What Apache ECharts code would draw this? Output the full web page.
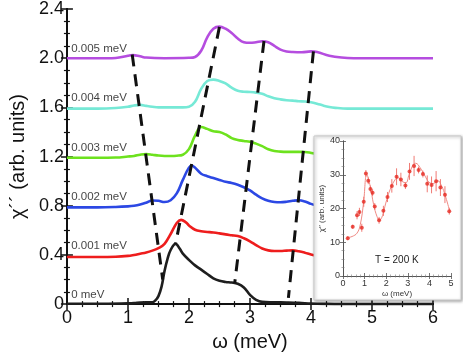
<!DOCTYPE html>
<html><head><meta charset="utf-8">
<script src="https://cdn.jsdelivr.net/npm/echarts@6/dist/echarts.min.js"></script>
<style>html,body{margin:0;padding:0;background:#fff}#c{width:463px;height:357px}</style>
</head><body><div id="c"></div>
<script>
// ---- main panel data: chi'' vs omega for several broadenings (curves offset vertically)
const omegaBlack = [0, 0.5, 1.0, 1.1, 1.2, 1.3, 1.4, 1.45, 1.5, 1.55, 1.6, 1.65, 1.7, 1.78, 1.85, 1.9, 2.0, 2.1, 2.2, 2.3, 2.4, 2.5, 2.6, 2.7, 2.8, 2.9, 3.0, 3.1, 3.2, 3.4, 3.6, 3.8, 4.0, 4.2, 4.5, 5, 6];
const chiBlack   = [0.003, 0.003, 0.006, 0.008, 0.013, 0.015, 0.015, 0.03, 0.065, 0.14, 0.27, 0.37, 0.44, 0.49, 0.45, 0.41, 0.36, 0.315, 0.28, 0.245, 0.21, 0.19, 0.18, 0.175, 0.165, 0.135, 0.075, 0.035, 0.018, 0.015, 0.013, 0.01, 0.005, 0.002, 0, 0, 0];
const omegaRed = [0, 0.5, 0.8, 1.0, 1.1, 1.2, 1.3, 1.4, 1.5, 1.6, 1.7, 1.8, 1.87, 1.95, 2.0, 2.1, 2.2, 2.3, 2.4, 2.5, 2.6, 2.7, 2.8, 2.9, 3.0, 3.1, 3.2, 3.3, 3.4, 3.5, 3.6, 3.7, 3.8, 3.9, 4.0, 4.1, 4.2, 4.4, 5, 6];
const chiRed   = [0.383, 0.383, 0.385, 0.392, 0.40, 0.41, 0.42, 0.435, 0.455, 0.49, 0.57, 0.66, 0.685, 0.665, 0.64, 0.605, 0.592, 0.587, 0.582, 0.575, 0.567, 0.56, 0.553, 0.535, 0.51, 0.48, 0.452, 0.437, 0.432, 0.432, 0.435, 0.437, 0.43, 0.418, 0.403, 0.393, 0.387, 0.384, 0.383, 0.383];
const omegaBlue = [0, 0.5, 0.8, 1.0, 1.1, 1.2, 1.3, 1.4, 1.5, 1.6, 1.7, 1.8, 1.9, 2.0, 2.05, 2.1, 2.2, 2.3, 2.4, 2.5, 2.6, 2.7, 2.8, 2.9, 3.0, 3.1, 3.2, 3.3, 3.4, 3.5, 3.6, 3.7, 3.8, 3.9, 4.0, 4.1, 4.2, 4.4, 5, 6];
const chiBlue   = [0.787, 0.787, 0.79, 0.795, 0.80, 0.81, 0.825, 0.843, 0.84, 0.83, 0.845, 0.90, 1.01, 1.11, 1.125, 1.11, 1.06, 1.04, 1.025, 1.01, 0.995, 0.985, 0.97, 0.95, 0.925, 0.89, 0.86, 0.84, 0.83, 0.828, 0.832, 0.84, 0.845, 0.835, 0.815, 0.80, 0.79, 0.787, 0.787, 0.787];
const omegaGreen = [0, 0.5, 0.8, 1.0, 1.1, 1.2, 1.3, 1.4, 1.5, 1.6, 1.7, 1.8, 1.9, 2.0, 2.1, 2.2, 2.3, 2.4, 2.5, 2.6, 2.7, 2.8, 2.9, 3.0, 3.1, 3.2, 3.3, 3.4, 3.5, 3.6, 3.8, 3.9, 4.0, 4.1, 4.2, 4.3, 4.5, 5, 6];
const chiGreen   = [1.19, 1.19, 1.192, 1.20, 1.205, 1.215, 1.22, 1.215, 1.208, 1.205, 1.205, 1.207, 1.215, 1.26, 1.37, 1.44, 1.425, 1.405, 1.40, 1.38, 1.35, 1.335, 1.327, 1.32, 1.305, 1.285, 1.26, 1.245, 1.24, 1.238, 1.238, 1.237, 1.23, 1.22, 1.205, 1.195, 1.19, 1.19, 1.19];
const omegaCyan = [0, 0.5, 0.8, 1.0, 1.1, 1.2, 1.3, 1.4, 1.5, 1.9, 2.0, 2.1, 2.2, 2.3, 2.4, 2.5, 2.6, 2.7, 2.8, 2.9, 3.0, 3.1, 3.2, 3.3, 3.4, 3.5, 3.6, 3.7, 3.8, 3.9, 4.0, 4.1, 4.2, 4.3, 4.4, 4.6, 5, 6];
const chiCyan   = [1.59, 1.59, 1.595, 1.605, 1.615, 1.62, 1.612, 1.605, 1.60, 1.60, 1.605, 1.645, 1.75, 1.815, 1.826, 1.815, 1.795, 1.76, 1.735, 1.727, 1.725, 1.72, 1.71, 1.69, 1.675, 1.665, 1.658, 1.655, 1.65, 1.648, 1.642, 1.63, 1.615, 1.603, 1.596, 1.59, 1.59, 1.59];
const omegaPurple = [0, 0.5, 0.8, 1.0, 1.08, 1.2, 1.3, 1.6, 2.0, 2.1, 2.2, 2.3, 2.4, 2.5, 2.6, 2.7, 2.8, 2.9, 3.0, 3.1, 3.2, 3.3, 3.4, 3.5, 3.6, 3.7, 3.85, 4.0, 4.1, 4.3, 4.5, 4.7, 5, 6];
const chiPurple   = [1.999, 1.999, 2.002, 2.02, 2.025, 2.015, 2.005, 2.0, 2.003, 2.01, 2.06, 2.17, 2.24, 2.257, 2.24, 2.205, 2.16, 2.13, 2.125, 2.13, 2.138, 2.13, 2.10, 2.07, 2.055, 2.05, 2.048, 2.055, 2.05, 2.02, 2.005, 2.0, 2.0, 2.0];

const curveLabels = ['0 meV', '0.001 meV', '0.002 meV', '0.003 meV', '0.004 meV', '0.005 meV'];
const curveOffsets = [0, 0.4, 0.8, 1.2, 1.6, 2.0];

// dashed guide lines (top point -> bottom point)
const ridgeTopX = [1.07, 2.5, 3.23, 4.04];
const ridgeTopY = [2.03, 2.255, 2.14, 2.056];
const ridgeBotX = [1.57, 1.78, 2.75, 3.63];
const ridgeBotY = [0.2, 0.49, 0.17, 0.05];

const xTicks = [0, 1, 2, 3, 4, 5, 6];
const yTicks = [0, 0.4, 0.8, 1.2, 1.6, 2.0, 2.4];

// ---- inset data: T = 200 K
const insetOmega = [0.22, 0.45, 0.65, 0.76, 0.87, 0.96, 1.06, 1.17, 1.27, 1.37, 1.47, 1.67, 1.87, 2.06, 2.26, 2.48, 2.68, 2.89, 3.08, 3.29, 3.5, 3.7, 3.9, 4.1, 4.31, 4.51, 4.72, 4.92];
const insetChi   = [11.2, 14.6, 18.0, 19.0, 14.3, 22.0, 30.4, 28.2, 25.8, 24.7, 20.6, 16.5, 19.3, 23.4, 26.7, 29.4, 28.6, 26.8, 31.0, 32.6, 31.4, 30.2, 27.3, 27.0, 28.1, 26.2, 24.1, 19.2];
const insetErr   = [0.6, 0.6, 1.2, 1.2, 1.2, 1.5, 1.0, 1.0, 1.0, 1.0, 1.0, 1.0, 1.5, 1.5, 2.0, 2.5, 2.0, 1.0, 2.5, 3.0, 1.0, 1.0, 2.5, 2.5, 3.0, 2.5, 2.5, 1.0];
const fitOmega = [0.22, 0.42, 0.65, 0.8, 0.95, 1.1, 1.26, 1.42, 1.57, 1.69, 1.83, 1.98, 2.18, 2.42, 2.57, 2.72, 2.91, 3.06, 3.26, 3.37, 3.57, 3.8, 3.98, 4.18, 4.38, 4.57, 4.72, 4.92];
const fitChi   = [11.4, 11.7, 12.7, 15.2, 21.6, 30.1, 26.6, 21.1, 17.7, 16.5, 17.9, 21.6, 25.6, 28.6, 29.1, 28.1, 27.6, 30.1, 33.1, 33.4, 32.1, 29.6, 27.8, 27.4, 28.3, 26.6, 24.1, 19.7];

const FONT = 'Liberation Sans, Arial, Helvetica, sans-serif';
const zip = (a, b) => a.map((v, i) => [v, b[i]]);

const chart = echarts.init(document.getElementById('c'), null, {renderer: 'canvas'});

function curve(xs, ys, color) {
  return {type: 'line', xAxisIndex: 0, yAxisIndex: 0, data: zip(xs, ys), showSymbol: false,
    smooth: 0.4, lineStyle: {color: color, width: 2.6}, z: 2, silent: true};
}

const mainAxisCommon = {
  axisLine: {show: true, lineStyle: {color: '#111', width: 2}},
  axisTick: {show: true, inside: true, length: 6, lineStyle: {color: '#111', width: 1.5}},
  minorTick: {show: true, splitNumber: 4, length: 3, lineStyle: {color: '#111', width: 1.2}},
  splitLine: {show: false}
};
const insetAxisCommon = {
  axisLine: {show: true, lineStyle: {color: '#555', width: 1}},
  axisTick: {show: true, inside: true, length: 3, lineStyle: {color: '#555', width: 0.8}},
  minorTick: {show: true, splitNumber: 5, length: 1.5, lineStyle: {color: '#777', width: 0.6}},
  splitLine: {show: false}, z: 20
};

const series = [
  curve(omegaBlack, chiBlack, '#1e1e1e'),
  curve(omegaRed, chiRed, '#ee1d1d'),
  curve(omegaBlue, chiBlue, '#2c48e4'),
  curve(omegaGreen, chiGreen, '#6de21e'),
  curve(omegaCyan, chiCyan, '#76e9d6'),
  curve(omegaPurple, chiPurple, '#b54ddf')
];
ridgeTopX.forEach((x, i) => {
  series.push({type: 'line', xAxisIndex: 0, yAxisIndex: 0, showSymbol: false, silent: true, z: 3,
    data: [[x, ridgeTopY[i]], [ridgeBotX[i], ridgeBotY[i]]],
    lineStyle: {color: '#111', width: 3, type: [12, 8]}});
});
series.push({type: 'scatter', xAxisIndex: 0, yAxisIndex: 0, symbolSize: 0, silent: true, z: 4,
  data: curveOffsets.map((o, i) => ({value: [0.07, o + 0.075], name: curveLabels[i]})),
  label: {show: true, position: 'right', distance: 0, formatter: p => p.name,
    color: '#111', fontSize: 11.5, fontFamily: FONT}});

// inset
series.push({type: 'line', xAxisIndex: 2, yAxisIndex: 2, data: zip(fitOmega, fitChi), showSymbol: false,
  smooth: 0.4, lineStyle: {color: '#f08a84', width: 1}, z: 21, silent: true});
series.push({type: 'custom', xAxisIndex: 2, yAxisIndex: 2, z: 22, silent: true,
  data: insetOmega.map((x, i) => [x, insetChi[i] - insetErr[i], insetChi[i] + insetErr[i]]),
  renderItem: (params, api) => {
    const lo = api.coord([api.value(0), api.value(1)]);
    const hi = api.coord([api.value(0), api.value(2)]);
    return {type: 'line', shape: {x1: lo[0], y1: lo[1], x2: hi[0], y2: hi[1]},
      style: {stroke: '#f07a74', lineWidth: 1}};
  }});
series.push({type: 'scatter', xAxisIndex: 2, yAxisIndex: 2, data: zip(insetOmega, insetChi), symbolSize: 4,
  itemStyle: {color: '#e62a22'}, z: 23, silent: true});

chart.setOption({
  animation: false,
  backgroundColor: '#fff',
  grid: [
    {left: 62, right: 30, top: 7, bottom: 49},
    {left: 343, right: 12, top: 141, bottom: 81, z: 20}
  ],
  xAxis: [
    Object.assign({}, mainAxisCommon, {type: 'value', gridIndex: 0, min: xTicks[0], max: xTicks[xTicks.length - 1], interval: 1,
      name: 'ω (meV)', nameLocation: 'middle', nameGap: 25,
      nameTextStyle: {fontSize: 20, color: '#111', fontFamily: FONT},
      axisLabel: {fontSize: 18, color: '#111', margin: 5, fontFamily: FONT}}),
    Object.assign({}, mainAxisCommon, {type: 'value', gridIndex: 0, position: 'top', min: 0, max: 6, interval: 1,
      axisLabel: {show: false}}),
    Object.assign({}, insetAxisCommon, {type: 'value', gridIndex: 1, min: 0, max: 5, interval: 1,
      name: 'ω (meV)', nameLocation: 'middle', nameGap: 14,
      nameTextStyle: {fontSize: 8, color: '#333', fontFamily: FONT},
      axisLabel: {fontSize: 9, color: '#333', margin: 3, fontFamily: FONT}}),
    Object.assign({}, insetAxisCommon, {type: 'value', gridIndex: 1, position: 'top', min: 0, max: 5, interval: 1,
      axisLabel: {show: false}})
  ],
  yAxis: [
    Object.assign({}, mainAxisCommon, {type: 'value', gridIndex: 0, min: yTicks[0], max: yTicks[yTicks.length - 1], interval: 0.4,
      name: 'χ´´ (arb. units)', nameLocation: 'middle', nameGap: 37,
      nameTextStyle: {fontSize: 20, color: '#111', fontFamily: FONT},
      axisLabel: {fontSize: 18, color: '#111', margin: 3, fontFamily: FONT,
        formatter: v => (v === 0 ? '0' : v.toFixed(1))}}),
    Object.assign({}, mainAxisCommon, {type: 'value', gridIndex: 0, position: 'right', min: 0, max: 2.4, interval: 0.4,
      axisLabel: {show: false}}),
    Object.assign({}, insetAxisCommon, {type: 'value', gridIndex: 1, min: 0, max: 40, interval: 10,
      minorTick: Object.assign({}, insetAxisCommon.minorTick, {splitNumber: 4}),
      name: 'χ″ (arb. units)', nameLocation: 'middle', nameGap: 14,
      nameTextStyle: {fontSize: 8, color: '#333', fontFamily: FONT},
      axisLabel: {fontSize: 9, color: '#333', margin: 3, fontFamily: FONT}}),
    Object.assign({}, insetAxisCommon, {type: 'value', gridIndex: 1, position: 'right', min: 0, max: 40, interval: 10,
      minorTick: Object.assign({}, insetAxisCommon.minorTick, {splitNumber: 4}),
      axisLabel: {show: false}})
  ],
  graphic: [
    {type: 'rect', z: 10, shape: {x: 314, y: 136, width: 147, height: 164},
      style: {fill: '#fff', stroke: '#c8c8c8', lineWidth: 1, shadowBlur: 3, shadowColor: 'rgba(0,0,0,0.35)', shadowOffsetX: 1, shadowOffsetY: 1}},
    {type: 'text', z: 30, x: 375, y: 255,
      style: {text: 'T = 200 K', fontSize: 10, fill: '#222', fontFamily: FONT}}
  ],
  series: series
});
</script>
</body></html>
